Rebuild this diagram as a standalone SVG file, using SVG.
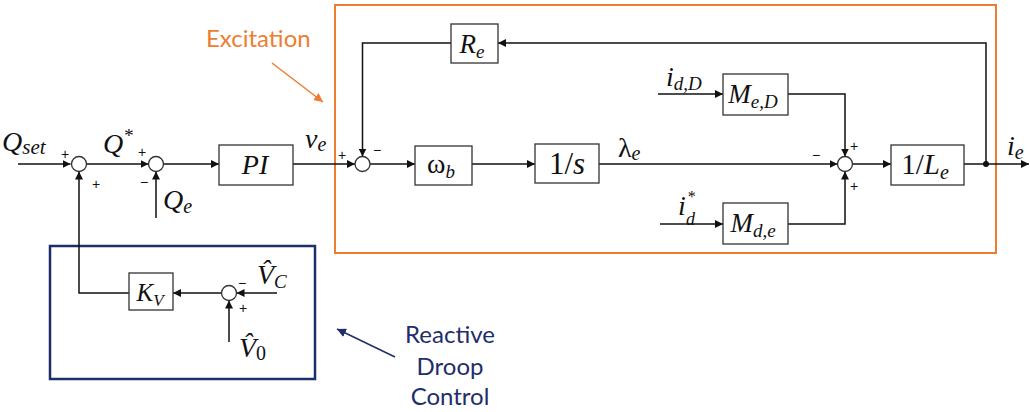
<svg xmlns="http://www.w3.org/2000/svg" width="1030" height="412" viewBox="0 0 1030 412">
<defs>
<style>
.blk{fill:#fff;stroke:#333;stroke-width:1.3}
.sum{fill:#fff;stroke:#333;stroke-width:1.3}
.ln{fill:none;stroke:#111;stroke-width:1.5}
.m{font-family:"Liberation Serif",serif;font-style:italic;fill:#111}
.u{font-family:"Liberation Serif",serif;font-style:normal;fill:#111}
.sg{font-family:"Liberation Sans",sans-serif;font-size:14px;fill:#111}
.lab{font-family:Lato,"Open Sans",sans-serif;font-size:24px}
</style>
<marker id="ar" viewBox="0 0 10 10" refX="10" refY="5" markerWidth="8" markerHeight="8" markerUnits="userSpaceOnUse" orient="auto">
<path d="M0,0 L10,5 L0,10 z" fill="#111"/>
</marker>
<marker id="aro" viewBox="0 0 10 10" refX="10" refY="5" markerWidth="9" markerHeight="9" markerUnits="userSpaceOnUse" orient="auto">
<path d="M0,0 L10,5 L0,10 z" fill="#ED7D31"/>
</marker>
<marker id="arb" viewBox="0 0 10 10" refX="10" refY="5" markerWidth="9" markerHeight="9" markerUnits="userSpaceOnUse" orient="auto">
<path d="M0,0 L10,5 L0,10 z" fill="#1F2D6B"/>
</marker>
</defs>
<rect width="1030" height="412" fill="#fff"/>

<g id="excitation">
<rect x="335" y="5" width="661" height="248" fill="none" stroke="#ED7D31" stroke-width="2"/>
<text class="lab" x="206" y="47" fill="#ED7D31">Excitation</text>
<line x1="272" y1="63" x2="323" y2="102" stroke="#ED7D31" stroke-width="1.5" marker-end="url(#aro)"/>
</g>
<g id="droop">
<rect x="50" y="246" width="265" height="133" fill="none" stroke="#1F2D6B" stroke-width="2.5"/>
<text class="lab" fill="#1F2D6B" text-anchor="middle"><tspan x="450" y="343">Reactive</tspan><tspan x="450" y="375">Droop</tspan><tspan x="450" y="405">Control</tspan></text>
<line x1="395" y1="357" x2="337" y2="329" stroke="#1F2D6B" stroke-width="1.5" marker-end="url(#arb)"/>
</g>

<g id="connectors">
<path class="ln" d="M18,164 H70.5" marker-end="url(#ar)"/>
<path class="ln" d="M86.5,164 H148.5" marker-end="url(#ar)"/>
<path class="ln" d="M163.5,164 H219" marker-end="url(#ar)"/>
<path class="ln" d="M293,164 H355" marker-end="url(#ar)"/>
<path class="ln" d="M370,164 H415" marker-end="url(#ar)"/>
<path class="ln" d="M472,164 H535" marker-end="url(#ar)"/>
<path class="ln" d="M599,164 H837.5" marker-end="url(#ar)"/>
<path class="ln" d="M852.5,164 H891" marker-end="url(#ar)"/>
<path class="ln" d="M964,164 H1029" marker-end="url(#ar)"/>
<path class="ln" d="M986,164 V43 H498" marker-end="url(#ar)"/>
<path class="ln" d="M451,43 H362.5 V156.5" marker-end="url(#ar)"/>
<path class="ln" d="M658,94 H723" marker-end="url(#ar)"/>
<path class="ln" d="M788,94 H845 V156.5" marker-end="url(#ar)"/>
<path class="ln" d="M660,224 H723" marker-end="url(#ar)"/>
<path class="ln" d="M788,224 H845 V171.5" marker-end="url(#ar)"/>
<path class="ln" d="M156,218 V171.5" marker-end="url(#ar)"/>
<path class="ln" d="M129,293 H79 V171.5" marker-end="url(#ar)"/>
<path class="ln" d="M277,293 H236.5" marker-end="url(#ar)"/>
<path class="ln" d="M221.5,293 H173" marker-end="url(#ar)"/>
<path class="ln" d="M229,342 V300.5" marker-end="url(#ar)"/>
<circle cx="986" cy="164" r="3" fill="#111"/>
</g>

<g id="sum1"><circle class="sum" cx="79" cy="164" r="7.5"/><text class="sg" x="61" y="159">+</text><text class="sg" x="92" y="189">+</text></g>
<g id="sum2"><circle class="sum" cx="156" cy="164" r="7.5"/><text class="sg" x="138" y="157">+</text><text class="sg" x="140" y="187">−</text></g>
<g id="sum3"><circle class="sum" cx="362.5" cy="164" r="7.5"/><text class="sg" x="338" y="160">+</text><text class="sg" x="373" y="155">−</text></g>
<g id="sum4"><circle class="sum" cx="845" cy="164" r="7.5"/><text class="sg" x="812" y="160">−</text><text class="sg" x="850" y="151">+</text><text class="sg" x="850" y="191">+</text></g>
<g id="sum5"><circle class="sum" cx="229" cy="293" r="7.5"/><text class="sg" x="238" y="288">−</text><text class="sg" x="239" y="313">+</text></g>

<g id="PI"><rect class="blk" x="219" y="145" width="74" height="40"/><text class="m" x="255" y="174" font-size="28" text-anchor="middle">PI</text></g>
<g id="Re"><rect class="blk" x="451" y="24" width="47" height="39"/><text class="m" x="472" y="53" font-size="27" text-anchor="middle">R<tspan font-size="19" dy="5">e</tspan></text></g>
<g id="wb"><rect class="blk" x="415" y="146" width="57" height="39"/><text class="u" x="441" y="173" font-size="28" text-anchor="middle">ω<tspan class="m" font-size="19" dy="5">b</tspan></text></g>
<g id="integ"><rect class="blk" x="535" y="144" width="64" height="39"/><text class="u" x="567" y="174" font-size="31" text-anchor="middle">1/<tspan class="m">s</tspan></text></g>
<g id="MeD"><rect class="blk" x="723" y="74" width="65" height="41"/><text class="m" x="753" y="103" font-size="27" text-anchor="middle">M<tspan font-size="19" dy="5">e,D</tspan></text></g>
<g id="Mde"><rect class="blk" x="723" y="203" width="65" height="41"/><text class="m" x="753" y="232" font-size="27" text-anchor="middle">M<tspan font-size="19" dy="5">d,e</tspan></text></g>
<g id="Le"><rect class="blk" x="891" y="145" width="73" height="40"/><text class="u" x="925" y="174" font-size="29" text-anchor="middle">1/<tspan class="m">L</tspan><tspan class="m" font-size="20" dy="5">e</tspan></text></g>
<g id="KV"><rect class="blk" x="129" y="273" width="44" height="37"/><text class="m" x="150" y="301" font-size="25" text-anchor="middle">K<tspan font-size="17" dy="5">V</tspan></text></g>

<g id="labels">
<text class="m" x="2" y="151" font-size="28">Q<tspan font-size="21" dy="3">set</tspan></text>
<text class="m" x="103" y="153" font-size="28">Q<tspan font-size="19" dy="-11">*</tspan></text>
<text class="m" x="163" y="209" font-size="28">Q<tspan font-size="20" dy="4">e</tspan></text>
<text class="m" x="305" y="148" font-size="28">v<tspan font-size="20" dy="3">e</tspan></text>
<text class="u" x="618" y="157" font-size="28">λ<tspan class="m" font-size="20" dy="3">e</tspan></text>
<text class="m" x="666" y="86" font-size="28">i<tspan font-size="19" dy="4">d,D</tspan></text>
<text class="m" x="678" y="215" font-size="28">i</text>
<text class="m" x="687" y="202" font-size="16">*</text>
<text class="m" x="686" y="225" font-size="18">d</text>
<text class="m" x="1007" y="155" font-size="28">i<tspan font-size="20" dy="4">e</tspan></text>
<text class="m" x="257" y="284" font-size="28">V̂<tspan font-size="19" dy="4">C</tspan></text>
<text class="m" x="239" y="357" font-size="28">V̂<tspan class="u" font-size="20" dy="3">0</tspan></text>
</g>
</svg>
